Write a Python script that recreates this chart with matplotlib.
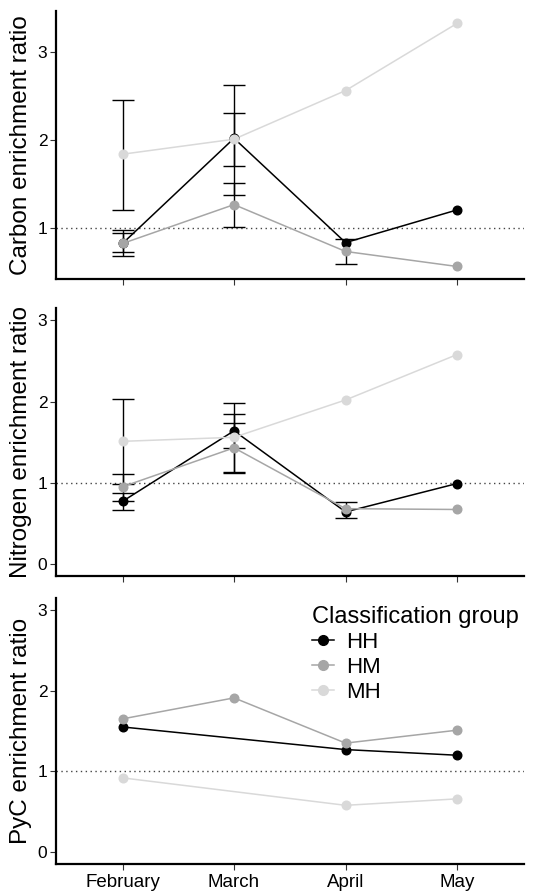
import numpy as np
import matplotlib
matplotlib.use('Agg')
import matplotlib.pyplot as plt
from matplotlib.lines import Line2D

plt.rcParams['font.family'] = ['Liberation Sans', 'DejaVu Sans']

months = ['February', 'March', 'April', 'May']
groups = ['HH', 'HM', 'MH']
colors = {'HH': '#000000', 'HM': '#A6A6A6', 'MH': '#D9D9D9'}
nan = np.nan

# carbon enrichment ratio
carbon = {'HH': [0.83, 2.02, 0.84, 1.21],
          'HM': [0.83, 1.27, 0.74, 0.57],
          'MH': [1.84, 2.01, 2.56, 3.32]}
carbon_lo = {'HH': [0.69, 1.38, nan, nan],
             'HM': [0.73, 1.02, 0.60, nan],
             'MH': [1.21, 1.71, nan, nan]}
carbon_hi = {'HH': [0.98, 2.62, nan, nan],
             'HM': [0.95, 1.51, 0.88, nan],
             'MH': [2.45, 2.31, nan, nan]}

# nitrogen enrichment ratio
nitrogen = {'HH': [0.77, 1.64, 0.64, 0.99],
            'HM': [0.95, 1.43, 0.68, 0.67],
            'MH': [1.51, 1.56, 2.02, 2.58]}
nitrogen_lo = {'HH': [0.66, 1.43, nan, nan],
               'HM': [0.78, 1.12, 0.57, nan],
               'MH': [0.99, 1.13, nan, nan]}
nitrogen_hi = {'HH': [0.87, 1.85, nan, nan],
               'HM': [1.11, 1.73, 0.76, nan],
               'MH': [2.03, 1.98, nan, nan]}

# PyC enrichment ratio
pyc = {'HH': [1.55, nan, 1.27, 1.20],
       'HM': [1.65, 1.91, 1.35, 1.51],
       'MH': [0.92, nan, 0.58, 0.66]}

W, H = 533, 892
fig = plt.figure(figsize=(W / 100, H / 100), dpi=100)


def make_ax(top, bottom, left=55.6, right=524):
    return fig.add_axes([left / W, 1 - bottom / H, (right - left) / W, (bottom - top) / H])


def panel(ax, vals, lo, hi, ylabel, ylim, yticks, xlabels):
    x = np.arange(1, 5)
    ax.axhline(1, color='#444444', lw=1, ls=(0, (1, 2.5)), zorder=1)
    if lo is not None:
        for g in groups:
            l = np.array(lo[g], float)
            h = np.array(hi[g], float)
            m = ~np.isnan(l)
            mid = (l + h) / 2
            ax.errorbar(x[m], mid[m], yerr=[mid[m] - l[m], h[m] - mid[m]], fmt='none',
                        ecolor='black', elinewidth=1, capsize=8, capthick=1, zorder=2)
    for g in groups:
        v = np.array(vals[g], float)
        m = ~np.isnan(v)
        ax.plot(x[m], v[m], color=colors[g], lw=1.1, zorder=3)
    for g in groups:
        v = np.array(vals[g], float)
        m = ~np.isnan(v)
        ax.plot(x[m], v[m], 'o', color=colors[g], ms=6.2, zorder=4)
    ax.set_xlim(0.4, 4.6)
    ax.set_ylim(*ylim)
    ax.set_yticks(yticks)
    ax.set_xticks(x)
    if xlabels:
        ax.set_xticklabels(months, fontsize=13.5)
    else:
        ax.set_xticklabels([])
    ax.tick_params(axis='y', labelsize=12.5, length=4, width=0.8, color='#333333', pad=2)
    ax.tick_params(axis='x', length=4, width=0.8, color='#333333', pad=3)
    for s in ['top', 'right']:
        ax.spines[s].set_visible(False)
    for s in ['left', 'bottom']:
        ax.spines[s].set_linewidth(1.6)
    ax.set_ylabel(ylabel, fontsize=17.5, va='center')
    ax.yaxis.set_label_coords(-0.074, 0.5)


ax1 = make_ax(11, 279.3)
panel(ax1, carbon, carbon_lo, carbon_hi, 'Carbon enrichment ratio', (0.425, 3.46), [1, 2, 3], False)
ax2 = make_ax(308.3, 576)
panel(ax2, nitrogen, nitrogen_lo, nitrogen_hi, 'Nitrogen enrichment ratio', (-0.15, 3.15), [0, 1, 2, 3], False)
ax3 = make_ax(597.7, 864.3)
panel(ax3, pyc, None, None, 'PyC enrichment ratio', (-0.15, 3.15), [0, 1, 2, 3], True)

handles = [Line2D([], [], color=colors[g], lw=1.1, marker='o', ms=7) for g in groups]
leg = ax3.legend(handles, groups, title='Classification group', loc='upper left',
                 bbox_to_anchor=(303 / W, 1 - 597 / H), bbox_transform=fig.transFigure,
                 frameon=False, fontsize=16, title_fontsize=17, handlelength=1.0,
                 handletextpad=0.55, labelspacing=0.18, borderaxespad=0, alignment='left')

fig.savefig('out.png', dpi=100)
